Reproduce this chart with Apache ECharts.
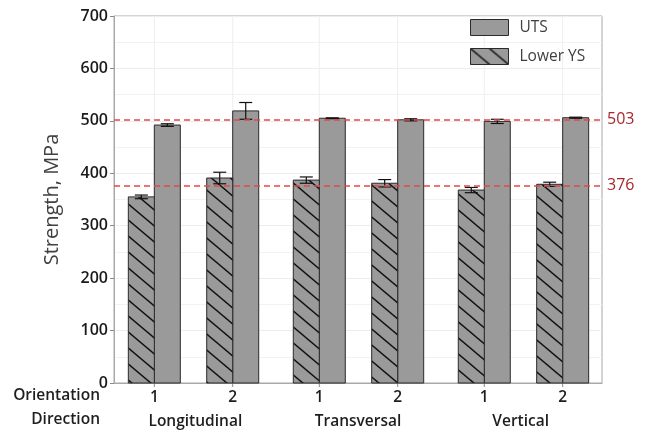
<!DOCTYPE html>
<html>
<head>
<meta charset="utf-8">
<script src="https://cdn.jsdelivr.net/npm/echarts@6/dist/echarts.min.js"></script>
<style>
  html, body { margin: 0; padding: 0; background: #ffffff; }
  #chart { width: 646px; height: 434px; }
</style>
</head>
<body>
<div id="chart"></div>
<script>
// Tensile test results by specimen direction and orientation
const directions = ['Longitudinal', 'Transversal', 'Vertical'];
const directionIndex = [0, 0, 1, 1, 2, 2];
const orientations = ['1', '2', '1', '2', '1', '2'];
const lowerYS = [355, 391, 387, 381, 368, 379];
const lowerYSErr = [3.5, 11, 6, 7, 5, 4];
const uts = [492, 519, 505, 502, 499, 506];
const utsErr = [2.5, 16, 0.8, 2, 4, 1];
const referenceLevels = [503, 376];
const yTicks = [0, 100, 200, 300, 400, 500, 600, 700];

const FONT = '"Open Sans", "Noto Sans", sans-serif';
const BAR_GRAY = '#9a9a9a';
const EDGE = '#2b2b2b';
const TEXT = '#1e1e1e';

// Diagonal hatch tile for the lower yield strength bars
function hatchTile() {
  const w = 19, h = 16;
  const c = document.createElement('canvas');
  c.width = w; c.height = h;
  const ctx = c.getContext('2d');
  ctx.fillStyle = BAR_GRAY;
  ctx.fillRect(0, 0, w, h);
  ctx.strokeStyle = '#111111';
  ctx.lineWidth = 1.4;
  for (const k of [-h, 0, h]) {
    ctx.beginPath();
    ctx.moveTo(-2, k - 2 * h / w);
    ctx.lineTo(w + 2, k + h + 2 * h / w);
    ctx.stroke();
  }
  return c;
}
const hatch = { image: hatchTile(), repeat: 'repeat' };

// Layout inside one direction group (fractions of the group spacing)
const ORIENT_OFFSET = 0.2376;
const BAR_FRACTION = 0.1576;

function orientCenter(api, dir, orient) {
  const base = api.coord([dir, 0]);
  const step = api.size([1, 0])[0];
  const sign = orient === 0 ? -1 : 1;
  return { x: base[0] + sign * step * ORIENT_OFFSET, y0: base[1], bw: step * BAR_FRACTION };
}

function errorBar(api, cx, dir, value, err) {
  const yHi = api.coord([dir, value + err])[1];
  const yLo = api.coord([dir, value - err])[1];
  const cap = 6.5;
  const st = { stroke: '#111111', lineWidth: 1.2 };
  return [
    { type: 'line', shape: { x1: cx, y1: yHi, x2: cx, y2: yLo }, style: st },
    { type: 'line', shape: { x1: cx - cap, y1: yHi, x2: cx + cap, y2: yHi }, style: st },
    { type: 'line', shape: { x1: cx - cap, y1: yLo, x2: cx + cap, y2: yLo }, style: st }
  ];
}

function barRenderer(side, fill) {
  return function (params, api) {
    const dir = api.value(0);
    const orient = api.value(1);
    const value = api.value(2);
    const err = api.value(3);
    const o = orientCenter(api, dir, orient);
    const yTop = api.coord([dir, value])[1];
    const x0 = side === 'left' ? o.x - o.bw : o.x;
    const barCx = x0 + o.bw / 2;
    return {
      type: 'group',
      children: [
        {
          type: 'rect',
          shape: { x: x0, y: yTop, width: o.bw, height: o.y0 - yTop },
          style: { fill: fill, stroke: EDGE, lineWidth: 1 }
        }
      ].concat(errorBar(api, barCx, dir, value, err))
    };
  };
}

// Vertical guides, ticks and orientation numbers under each pair of bars
function guideRenderer(params, api) {
  const dir = api.value(0);
  const orient = api.value(1);
  const o = orientCenter(api, dir, orient);
  const yTopAxis = api.coord([dir, yTicks[yTicks.length - 1]])[1];
  return {
    type: 'group',
    children: [
      { type: 'line', shape: { x1: o.x, y1: yTopAxis, x2: o.x, y2: o.y0 },
        style: { stroke: '#eeeeee', lineWidth: 1 } },
      { type: 'line', shape: { x1: o.x, y1: o.y0, x2: o.x, y2: o.y0 + 4 },
        style: { stroke: '#8a8a8a', lineWidth: 1 } },
      { type: 'text', x: o.x, y: o.y0 + 15,
        style: { text: orientations[params.dataIndex], fill: TEXT, font: '600 15.5px ' + FONT,
                 align: 'center', verticalAlign: 'middle' } }
    ]
  };
}

const orientIdx = orientations.map(o => Number(o) - 1);
const lysData = lowerYS.map((v, i) => [directionIndex[i], orientIdx[i], v, lowerYSErr[i]]);
const utsData = uts.map((v, i) => [directionIndex[i], orientIdx[i], v, utsErr[i]]);
const guideData = orientations.map((o, i) => [directionIndex[i], orientIdx[i]]);

const chart = echarts.init(document.getElementById('chart'), null, { renderer: 'canvas' });

chart.setOption({
  animation: false,
  backgroundColor: '#ffffff',
  textStyle: { fontFamily: FONT },
  grid: {
    left: 114, right: 44, top: 16, bottom: 51,
    show: true, borderColor: '#a8a8a8', borderWidth: 1, backgroundColor: 'transparent'
  },
  legend: {
    orient: 'vertical',
    left: 470, top: 19, padding: 0,
    itemWidth: 38, itemHeight: 16, itemGap: 12,
    textStyle: { fontSize: 15.5, color: '#404040', fontFamily: FONT, padding: [0, 0, 0, 6] },
    data: [
      { name: 'UTS', icon: 'rect', itemStyle: { color: BAR_GRAY, borderColor: EDGE, borderWidth: 1 } },
      { name: 'Lower YS', icon: 'rect', itemStyle: { color: hatch, borderColor: EDGE, borderWidth: 1 } }
    ]
  },
  xAxis: [
    {
      // direction names along the bottom
      type: 'category',
      data: directions,
      axisLine: { show: true, onZero: false, lineStyle: { color: '#a8a8a8', width: 1 } },
      axisTick: { show: false },
      splitLine: { show: false },
      axisLabel: { fontSize: 15.5, fontWeight: 600, color: TEXT, fontFamily: FONT, margin: 30, lineHeight: 18 }
    },
    {
      // numeric placement of the direction groups used by the bars
      type: 'value',
      min: -0.482, max: 2.476,
      show: false,
      position: 'bottom',
      axisLine: { onZero: false },
      splitLine: { show: false }
    }
  ],
  yAxis: {
    type: 'value',
    min: yTicks[0], max: yTicks[yTicks.length - 1], interval: 100,
    name: 'Strength, MPa',
    nameLocation: 'middle',
    nameGap: 52,
    nameTextStyle: { fontSize: 20, color: '#404040', fontFamily: FONT },
    axisLine: { show: true, onZero: false, lineStyle: { color: '#a8a8a8', width: 1 } },
    axisTick: { show: true, length: 4, lineStyle: { color: '#8a8a8a' } },
    axisLabel: { fontSize: 16, fontWeight: 600, color: '#1a1a1a', fontFamily: FONT, margin: 6 },
    splitLine: { show: true, lineStyle: { color: '#ededed', width: 1 } },
    minorTick: { show: false, splitNumber: 2 },
    minorSplitLine: { show: true, lineStyle: { color: '#f2f2f2', width: 1 } }
  },
  graphic: [
    { type: 'text', right: 546, top: 388, style: { text: 'Orientation', fill: TEXT, font: '600 15.5px ' + FONT } },
    { type: 'text', right: 546, top: 412, style: { text: 'Direction', fill: TEXT, font: '600 15.5px ' + FONT } }
  ],
  series: [
    {
      type: 'custom',
      name: 'guides',
      xAxisIndex: 1,
      z: 1,
      silent: true,
      renderItem: guideRenderer,
      data: guideData,
      markLine: {
        silent: true,
        symbol: ['none', 'none'],
        lineStyle: { color: '#e24a4a', type: [6, 4], width: 1.5 },
        label: { show: true, position: 'end', distance: 5, color: '#a8262c', fontSize: 16, fontFamily: FONT, formatter: '{c}' },
        data: referenceLevels.map(v => ({ yAxis: v }))
      }
    },
    {
      type: 'custom',
      name: 'UTS',
      xAxisIndex: 1,
      z: 3,
      itemStyle: { color: BAR_GRAY, borderColor: EDGE },
      renderItem: barRenderer('right', BAR_GRAY),
      data: utsData
    },
    {
      type: 'custom',
      name: 'Lower YS',
      xAxisIndex: 1,
      z: 3,
      itemStyle: { color: hatch, borderColor: EDGE },
      renderItem: barRenderer('left', hatch),
      data: lysData
    }
  ]
});
</script>
</body>
</html>
